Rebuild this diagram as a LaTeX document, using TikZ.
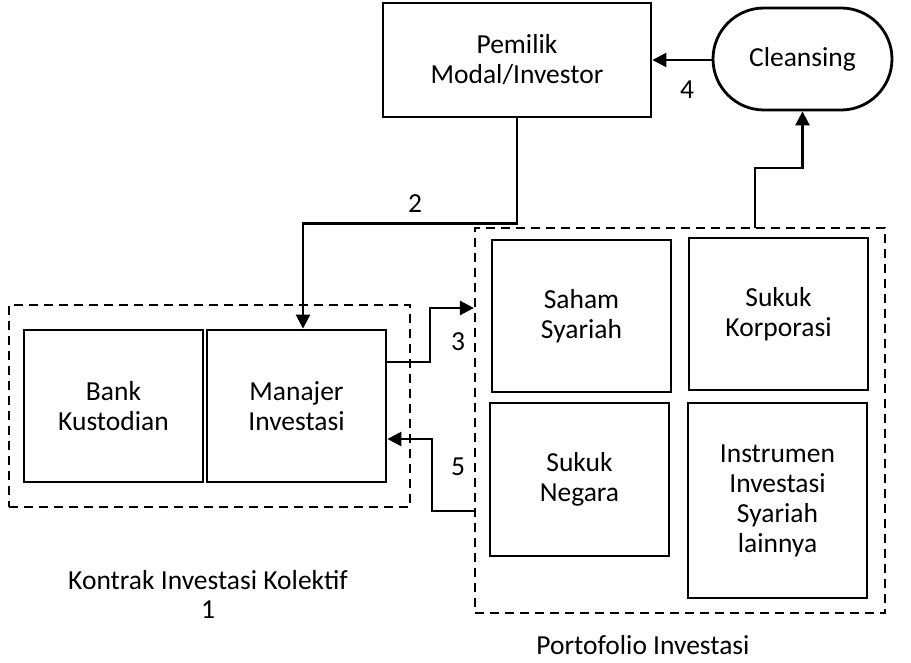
\documentclass[tikz,border=0pt]{standalone}
\usepackage{fontspec}
\setmainfont{Carlito}
\usetikzlibrary{arrows.meta}
\begin{document}
\begin{tikzpicture}[x=1pt,y=-1pt,
  box/.style={draw,line width=2.8pt,align=center,inner sep=0pt,font=\fontsize{27.5}{30}\selectfont},
  dbox/.style={draw,line width=2.2pt,dash pattern=on 9pt off 6pt,inner sep=0pt},
  arr/.style={line width=2.6pt,-{Triangle[length=14pt,width=14pt]}},
  lbl/.style={font=\fontsize{27.5}{30}\selectfont,inner sep=0pt}]
\useasboundingbox (0,0) rectangle (911,663);
% dashed groups
\node[dbox,minimum width=401pt,minimum height=202pt] (K) at (209.5,406) {};
\node[dbox,minimum width=410pt,minimum height=385pt] (PF) at (680,420.5) {};
% boxes
\node[box,minimum width=268pt,minimum height=114pt] (P) at (517,60) {Pemilik\\Modal/Investor};
\node[box,rounded corners=51pt,minimum width=179pt,minimum height=102pt] (C) at (802.5,59) {Cleansing};
\node[box,minimum width=179pt,minimum height=152pt] (B) at (113.5,406) {Bank\\Kustodian};
\node[box,minimum width=179pt,minimum height=152pt] (M) at (296.5,406) {Manajer\\Investasi};
\node[box,minimum width=179pt,minimum height=152pt] (S1) at (581.5,316) {Saham\\Syariah};
\node[box,minimum width=179pt,minimum height=152pt] (S2) at (778.5,314) {Sukuk\\Korporasi};
\node[box,minimum width=179pt,minimum height=153pt] (S3) at (579.5,479.5) {Sukuk\\Negara};
\node[box,minimum width=179pt,minimum height=195pt] (S4) at (777.5,500.5) {Instrumen\\Investasi\\Syariah\\lainnya};
% coordinates
\coordinate (c3) at (430,308);
\coordinate (c5) at (432,511);
% connectors
\draw[arr] (P.west -| C.west) -- (P.east);
\draw[arr] (P.south) -- ++(0,105) -| ([xshift=6.5pt]M.north);
\draw[arr] (755,228) -- (755,168) -| (C.south);
\draw[arr] (M.east |- 0,362) -| (c3) -- (c3 -| PF.west);
\draw[arr] (c5 -| PF.west) -- (c5) |- (M.east |- 0,439);
% labels
\node[lbl] (l2) at (415,204) {2};
\node[lbl] (l4) at (687,90) {4};
\node[lbl] (l3) at (458,342) {3};
\node[lbl] (l5) at (458,467) {5};
\node[lbl] (kik) at (208,580) {Kontrak Investasi Kolektif};
\node[lbl] (n1) at (208,610) {1};
\node[lbl] (pfl) at (643,645) {Portofolio Investasi};
\end{tikzpicture}
\end{document}
